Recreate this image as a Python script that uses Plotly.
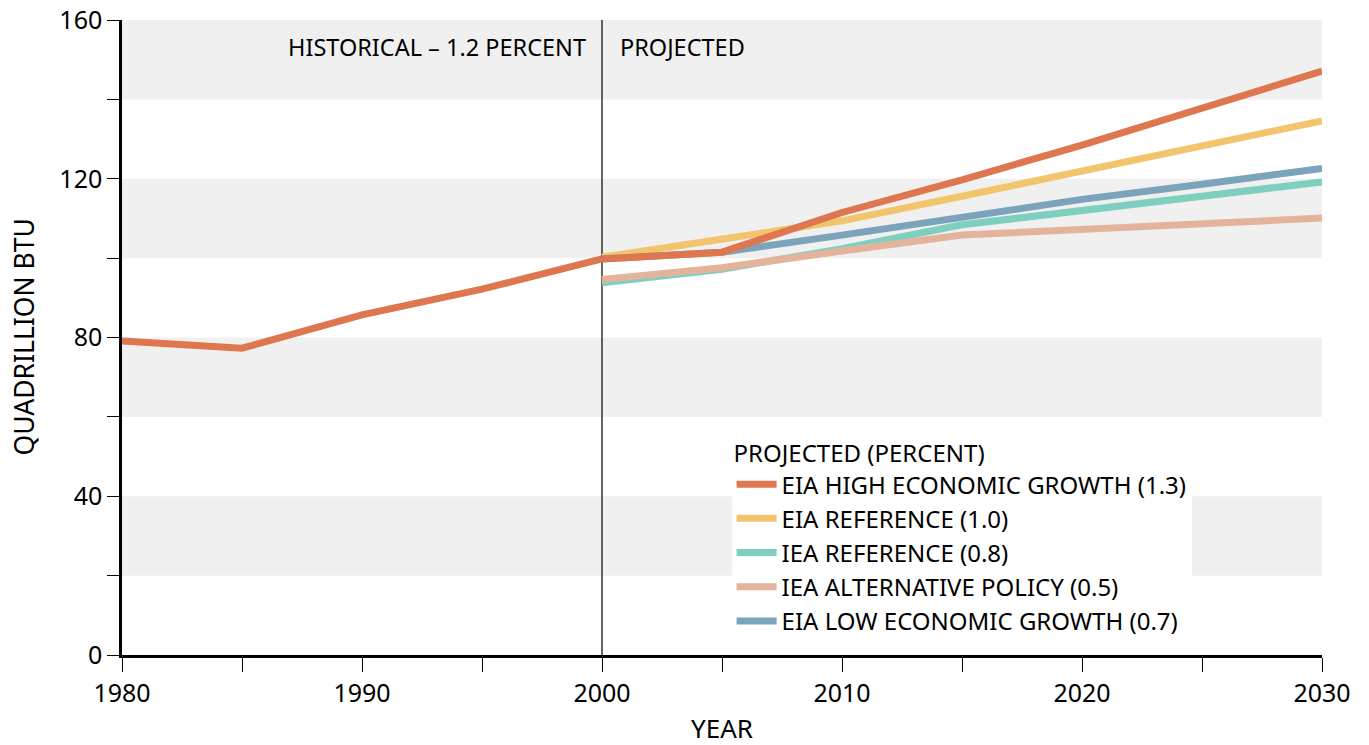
import plotly.graph_objects as go

hist_years = [1980, 1985, 1990, 1995, 2000]
hist_values = [79.1, 77.3, 85.7, 92.2, 99.8]

eia_high_years = [2000, 2005, 2010, 2015, 2020, 2025, 2030]
eia_high = [99.8, 101.5, 111.5, 119.7, 128.5, 137.6, 147.1]

eia_ref_years = [2000, 2005, 2010, 2015, 2020, 2025, 2030]
eia_ref = [100.2, 104.6, 109.4, 115.6, 122.0, 128.3, 134.6]

iea_ref_years = [2000, 2005, 2010, 2015, 2030]
iea_ref = [93.8, 97.2, 102.4, 108.4, 119.2]

iea_alt_years = [2000, 2005, 2010, 2015, 2030]
iea_alt = [94.6, 97.6, 101.8, 105.8, 110.1]

eia_low_years = [2000, 2005, 2010, 2015, 2020, 2025, 2030]
eia_low = [99.8, 101.5, 105.8, 110.4, 114.8, 118.6, 122.6]

band_ranges = [(20, 40), (60, 80), (100, 120), (140, 160)]

FONT = "Noto Sans"
LW = 7

fig = go.Figure()

fig.add_trace(go.Scatter(x=hist_years, y=hist_values, mode="lines",
                         line=dict(color="#DE7650", width=LW), showlegend=False,
                         hoverinfo="skip"))

series = [
    ("IEA REFERENCE (0.8)", iea_ref_years, iea_ref, "#7ECFC0", 3),
    ("IEA ALTERNATIVE POLICY (0.5)", iea_alt_years, iea_alt, "#E3B49B", 4),
    ("EIA REFERENCE (1.0)", eia_ref_years, eia_ref, "#F2C46B", 2),
    ("EIA LOW ECONOMIC GROWTH (0.7)", eia_low_years, eia_low, "#7BA3BC", 5),
    ("EIA HIGH ECONOMIC GROWTH (1.3)", eia_high_years, eia_high, "#DE7650", 1),
]
for name, xs, ys, col, rank in series:
    fig.add_trace(go.Scatter(x=xs, y=ys, mode="lines", name=name,
                             line=dict(color=col, width=LW), legendrank=rank))

for lo, hi in band_ranges:
    fig.add_shape(type="rect", xref="x", yref="y", x0=1980, x1=2030, y0=lo, y1=hi,
                  fillcolor="#F0F0F0", line=dict(width=0), layer="below")

fig.add_shape(type="line", xref="x", yref="y", x0=2000, x1=2000, y0=0, y1=160,
              line=dict(color="black", width=1.2), layer="below")

fig.add_annotation(x=2000, y=160, xref="x", yref="y", text="HISTORICAL – 1.2 PERCENT",
                   showarrow=False, xanchor="right", yanchor="middle", xshift=-14, yshift=-27,
                   font=dict(family=FONT, size=23.5, color="black"))
fig.add_annotation(x=2000, y=160, xref="x", yref="y", text="PROJECTED",
                   showarrow=False, xanchor="left", yanchor="middle", xshift=16, yshift=-27,
                   font=dict(family=FONT, size=23.5, color="black"))

# axis titles
fig.add_annotation(x=0, y=0.5, xref="paper", yref="paper", text="QUADRILLION BTU",
                   textangle=-90, showarrow=False, xanchor="center", yanchor="middle",
                   xshift=-99, font=dict(family=FONT, size=26.5, color="black"))
fig.add_annotation(x=0.5, y=0, xref="paper", yref="paper", text="YEAR",
                   showarrow=False, xanchor="center", yanchor="middle",
                   yshift=-73, font=dict(family=FONT, size=26, color="black"))

fig.update_layout(
    width=1369, height=745,
    margin=dict(l=122, r=47, t=20, b=90, autoexpand=False),
    plot_bgcolor="white", paper_bgcolor="white",
    font=dict(family=FONT, size=23, color="black"),
    showlegend=True,
    legend=dict(x=0.508, y=0.353, xanchor="left", yanchor="top",
                bgcolor="white", borderwidth=0,
                title=dict(text="PROJECTED (PERCENT)", font=dict(size=24)),
                font=dict(family=FONT, size=24, color="black"),
                tracegroupgap=0, itemwidth=40),
    xaxis=dict(range=[1980, 2030], dtick=10, tick0=1980, ticks="outside", ticklen=14,
               tickwidth=1.2, tickcolor="black", showgrid=False, zeroline=False,
               showline=True, linecolor="black", linewidth=2.5, automargin=False,
               minor=dict(dtick=5, ticks="outside", ticklen=14, tickwidth=1.2,
                          tickcolor="black", showgrid=False),
               tickfont=dict(size=25), ticklabeloverflow="allow"),
    yaxis=dict(range=[0, 160], dtick=40, tick0=0, ticks="outside", ticklen=12, tickwidth=1.2,
               tickcolor="black", showgrid=False, zeroline=False,
               showline=True, linecolor="black", linewidth=2.5, automargin=False,
               minor=dict(dtick=20, ticks="outside", ticklen=12, tickwidth=1.2,
                          tickcolor="black", showgrid=False),
               tickfont=dict(size=25), ticklabeloverflow="allow"),
)

fig.write_html("out.html", config={"displayModeBar": False},
               post_script="document.body.style.margin='0';document.body.style.overflow='hidden';")
